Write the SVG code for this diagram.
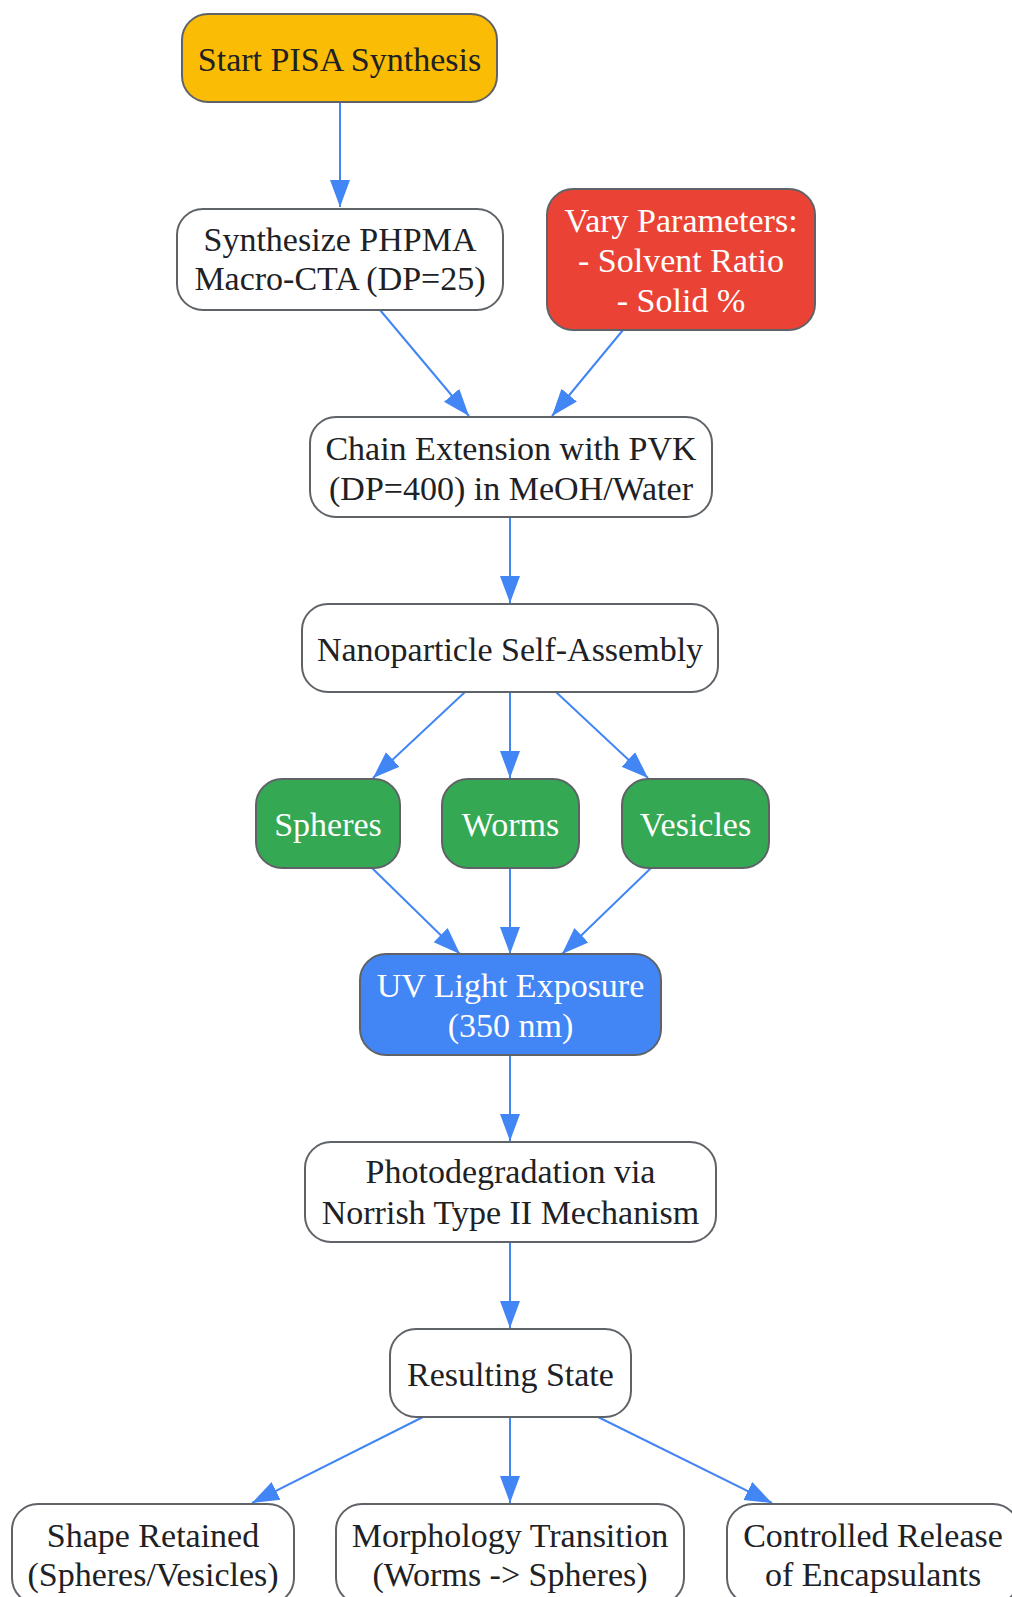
<svg xmlns="http://www.w3.org/2000/svg" width="1012" height="1597" viewBox="0 0 1012 1597">
<style>
  .box { stroke: #5f6368; stroke-width: 2; }
  .white { fill: #ffffff; }
  .yellow { fill: #fbbc05; }
  .red { fill: #ea4335; }
  .green { fill: #34a853; }
  .blue { fill: #4285f4; }
  text { font-family: "Liberation Serif", "Times New Roman", serif; font-size: 34px; text-anchor: middle; fill: #202124; }
  text.light { fill: #ffffff; }
  .edge { stroke: #4285f4; stroke-width: 2; fill: none; marker-end: url(#arrow); }
</style>
<defs>
  <marker id="arrow" markerUnits="userSpaceOnUse" markerWidth="28" markerHeight="22" viewBox="0 0 28 22" refX="27" refY="11" orient="auto">
    <path d="M0,1 L27,11 L0,21 z" fill="#4285f4"/>
  </marker>
</defs>
<rect width="1012" height="1597" fill="#ffffff"/>
<g id="connectors">
  <line class="edge" x1="340" y1="102" x2="340" y2="207"/>
  <line class="edge" x1="380" y1="310" x2="469" y2="416"/>
  <line class="edge" x1="623" y1="330" x2="552" y2="416"/>
  <line class="edge" x1="510" y1="517" x2="510" y2="603"/>
  <line class="edge" x1="465" y1="692" x2="373" y2="778"/>
  <line class="edge" x1="510" y1="692" x2="510" y2="778"/>
  <line class="edge" x1="556" y1="692" x2="648" y2="778"/>
  <line class="edge" x1="372" y1="868" x2="460" y2="954"/>
  <line class="edge" x1="510" y1="868" x2="510" y2="954"/>
  <line class="edge" x1="651" y1="868" x2="562" y2="954"/>
  <line class="edge" x1="510" y1="1055" x2="510" y2="1141"/>
  <line class="edge" x1="510" y1="1242" x2="510" y2="1328"/>
  <line class="edge" x1="423" y1="1417" x2="252" y2="1503"/>
  <line class="edge" x1="510" y1="1417" x2="510" y2="1503"/>
  <line class="edge" x1="598" y1="1417" x2="772" y2="1503"/>
</g>
<g id="start">
  <rect class="box yellow" x="182" y="14" width="315" height="88" rx="26"/>
  <text x="339.5" y="71">Start PISA Synthesis</text>
</g>
<g id="synth">
  <rect class="box white" x="177" y="209" width="326" height="101" rx="26"/>
  <text x="340" y="251">Synthesize PHPMA</text>
  <text x="340" y="290">Macro-CTA (DP=25)</text>
</g>
<g id="vary">
  <rect class="box red" x="547" y="189" width="268" height="141" rx="26"/>
  <text class="light" x="681" y="232">Vary Parameters:</text>
  <text class="light" x="681" y="272">- Solvent Ratio</text>
  <text class="light" x="681" y="312">- Solid %</text>
</g>
<g id="chain">
  <rect class="box white" x="310" y="417" width="402" height="100" rx="26"/>
  <text x="511" y="460">Chain Extension with PVK</text>
  <text x="511" y="500">(DP=400) in MeOH/Water</text>
</g>
<g id="nano">
  <rect class="box white" x="302" y="604" width="416" height="88" rx="26"/>
  <text x="510" y="661">Nanoparticle Self-Assembly</text>
</g>
<g id="spheres">
  <rect class="box green" x="256" y="779" width="144" height="89" rx="26"/>
  <text class="light" x="328" y="836">Spheres</text>
</g>
<g id="worms">
  <rect class="box green" x="442" y="779" width="137" height="89" rx="26"/>
  <text class="light" x="510.5" y="836">Worms</text>
</g>
<g id="vesicles">
  <rect class="box green" x="622" y="779" width="147" height="89" rx="26"/>
  <text class="light" x="695.5" y="836">Vesicles</text>
</g>
<g id="uv">
  <rect class="box blue" x="360" y="954" width="301" height="101" rx="26"/>
  <text class="light" x="510.5" y="997">UV Light Exposure</text>
  <text class="light" x="510.5" y="1037">(350 nm)</text>
</g>
<g id="photo">
  <rect class="box white" x="305" y="1142" width="411" height="100" rx="26"/>
  <text x="510.5" y="1183">Photodegradation via</text>
  <text x="510.5" y="1224">Norrish Type II Mechanism</text>
</g>
<g id="resulting">
  <rect class="box white" x="390" y="1329" width="241" height="88" rx="26"/>
  <text x="510.5" y="1386">Resulting State</text>
</g>
<g id="shape">
  <rect class="box white" x="12" y="1504" width="282" height="100" rx="26"/>
  <text x="153" y="1547">Shape Retained</text>
  <text x="153" y="1586">(Spheres/Vesicles)</text>
</g>
<g id="morph">
  <rect class="box white" x="336" y="1504" width="348" height="100" rx="26"/>
  <text x="510" y="1547">Morphology Transition</text>
  <text x="510" y="1586">(Worms -&gt; Spheres)</text>
</g>
<g id="controlled">
  <rect class="box white" x="727" y="1504" width="292" height="100" rx="26"/>
  <text x="873" y="1547">Controlled Release</text>
  <text x="873" y="1586">of Encapsulants</text>
</g>
</svg>
